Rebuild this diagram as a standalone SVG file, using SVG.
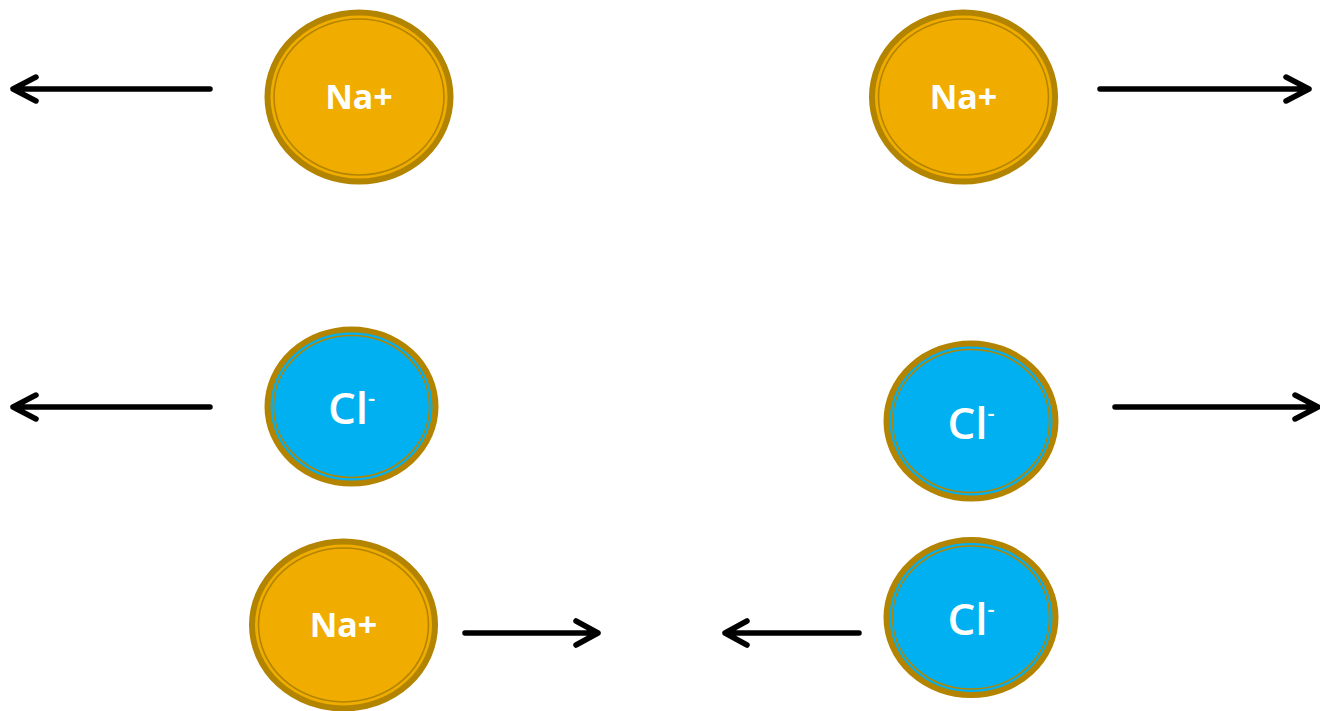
<svg xmlns="http://www.w3.org/2000/svg" width="1320" height="711" viewBox="0 0 1320 711">
  <style>
    .ring { stroke: #B38400; stroke-width: 6; }
    .inner { fill: none; stroke: #B38400; stroke-width: 1.6; }
    .na { fill: #F0AD00; }
    .cl { fill: #00B0F0; }
    .lbl { fill: #FFFFFF; font-family: "Open Sans", "Noto Sans", sans-serif; text-anchor: middle; }
    .na-t { font-size: 34px; font-weight: 700; }
    .cl-t { font-size: 44px; font-weight: 600; }
    .arrow { stroke: #000; stroke-width: 5.5; stroke-linecap: round; stroke-linejoin: round; fill: none; }
  </style>

  <g id="na-top-left">
    <ellipse class="na ring" cx="359" cy="97" rx="91.5" ry="84.5"/>
    <ellipse class="inner" cx="359" cy="97" rx="85" ry="78"/>
    <text class="lbl na-t" x="359" y="109">Na+</text>
  </g>
  <g id="na-top-right">
    <ellipse class="na ring" cx="963.5" cy="97" rx="91.5" ry="84.5"/>
    <ellipse class="inner" cx="963.5" cy="97" rx="85" ry="78"/>
    <text class="lbl na-t" x="963.5" y="109">Na+</text>
  </g>
  <g id="cl-mid-left">
    <ellipse class="cl ring" cx="351.5" cy="406.5" rx="84" ry="77"/>
    <ellipse class="inner" cx="351.5" cy="406.5" rx="78" ry="71"/>
    <text class="lbl cl-t" x="351.5" y="424">Cl<tspan font-size="22" dy="-18">-</tspan></text>
  </g>
  <g id="cl-mid-right">
    <ellipse class="cl ring" cx="971" cy="421" rx="84.5" ry="77.5"/>
    <ellipse class="inner" cx="971" cy="421" rx="78.5" ry="71.5"/>
    <text class="lbl cl-t" x="971" y="439">Cl<tspan font-size="22" dy="-18">-</tspan></text>
  </g>
  <g id="na-bottom">
    <ellipse class="na ring" cx="343.5" cy="625" rx="91.5" ry="83.5"/>
    <ellipse class="inner" cx="343.5" cy="625" rx="85" ry="77"/>
    <text class="lbl na-t" x="343.5" y="637">Na+</text>
  </g>
  <g id="cl-bottom-right">
    <ellipse class="cl ring" cx="971" cy="617.5" rx="84.5" ry="77.5"/>
    <ellipse class="inner" cx="971" cy="617.5" rx="78.5" ry="71.5"/>
    <text class="lbl cl-t" x="971" y="635">Cl<tspan font-size="22" dy="-18">-</tspan></text>
  </g>

  <g id="connectors">
    <path class="arrow" d="M210 89 H13 M36 77 L13 89 L36 101"/>
    <path class="arrow" d="M1100 89 H1309 M1286 77 L1309 89 L1286 101"/>
    <path class="arrow" d="M210 407 H13 M36 395 L13 407 L36 419"/>
    <path class="arrow" d="M1115 407 H1318 M1295 395 L1318 407 L1295 419"/>
    <path class="arrow" d="M465 633 H598 M576 621 L598 633 L576 645"/>
    <path class="arrow" d="M859 633 H725 M747 621 L725 633 L747 645"/>
  </g>
</svg>
